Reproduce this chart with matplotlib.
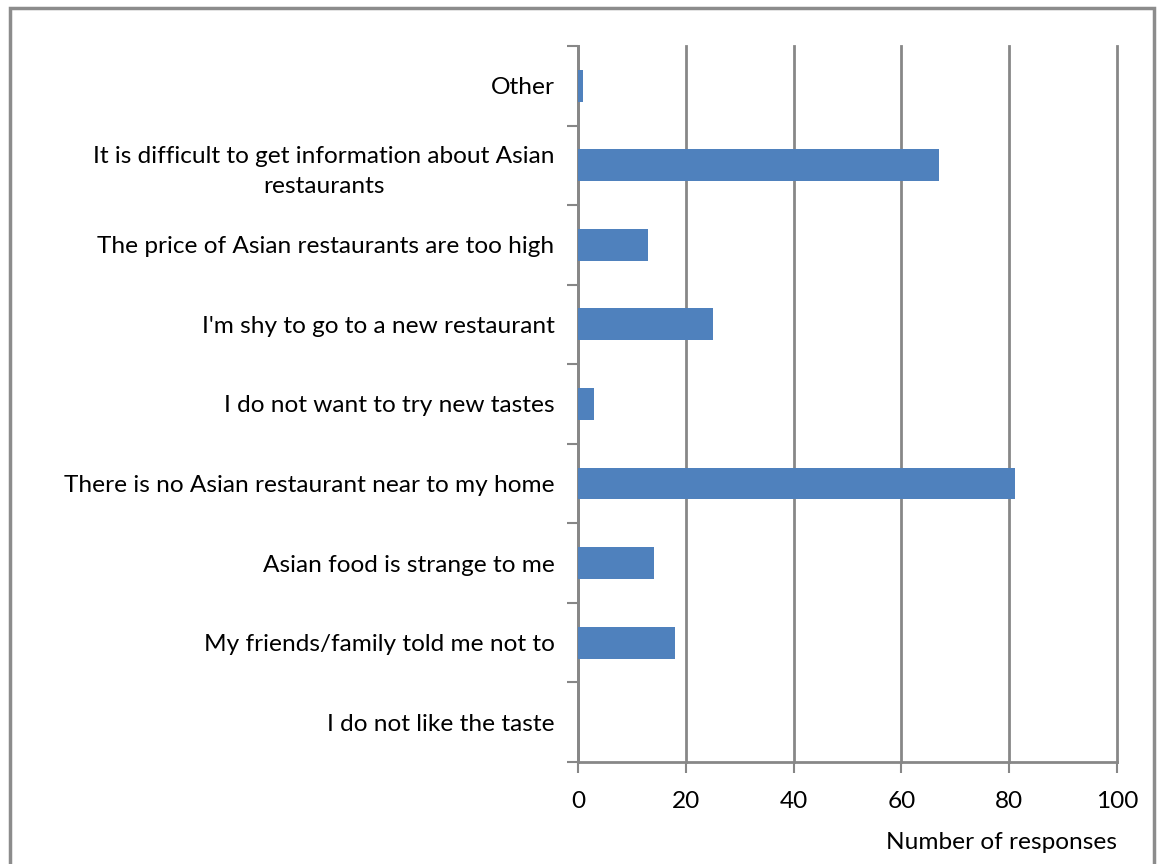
import numpy as np
import matplotlib.pyplot as plt
from matplotlib.patches import Rectangle

plt.rcParams['font.family'] = ['Lato', 'DejaVu Sans']

reasons = [
    "I do not like the taste",
    "My friends/family told me not to",
    "Asian food is strange to me",
    "There is no Asian restaurant near to my home",
    "I do not want to try new tastes",
    "I'm shy to go to a new restaurant",
    "The price of Asian restaurants are too high",
    "It is difficult to get information about Asian\nrestaurants",
    "Other",
]
responses = [0, 18, 14, 81, 3, 25, 13, 67, 1]

bar_color = '#4F81BD'
grid_color = '#878787'
fs = 17.6

fig = plt.figure(figsize=(11.57, 8.64), dpi=100)
ax = fig.add_axes([0.4996, 0.1181, 0.4659, 0.8287])

y = np.arange(len(reasons))
ax.barh(y, responses, height=0.4, color=bar_color, zorder=3)

ax.set_xlim(0, 100)
ax.set_ylim(-0.5, len(reasons) - 0.5)
ax.set_xticks(np.arange(0, 101, 20))
ax.xaxis.grid(True, color=grid_color, linewidth=2, zorder=0)
for gl in ax.get_xgridlines():
    gl.set_clip_on(False)

# category labels sit between the boundary ticks
ax.set_yticks(y)
ax.set_yticklabels(reasons, fontsize=fs, linespacing=1.5)
for lbl in ax.get_yticklabels():
    lbl.set_horizontalalignment('right')
    lbl.set_multialignment('center')
ax.tick_params(axis='y', length=0, pad=17)
ax.set_yticks(np.arange(-0.5, len(reasons)), minor=True)
ax.tick_params(axis='y', which='minor', length=8, width=1.5, color=grid_color)
ax.tick_params(axis='x', length=8, width=1.5, color=grid_color,
               labelsize=fs, pad=13)

for side in ['top', 'right']:
    ax.spines[side].set_visible(False)
for side in ['left', 'bottom']:
    ax.spines[side].set_color(grid_color)
    ax.spines[side].set_linewidth(2)

ax.set_xlabel('Number of responses', fontsize=fs, loc='right', labelpad=14)

# outer chart frame
fig.patches.append(Rectangle((10 / 1157, -0.01), 1144 / 1157, 1 - 8 / 864 + 0.01,
                             transform=fig.transFigure, fill=False,
                             edgecolor='#8c8c8c', linewidth=2.5))

fig.savefig('out.png', dpi=100)
